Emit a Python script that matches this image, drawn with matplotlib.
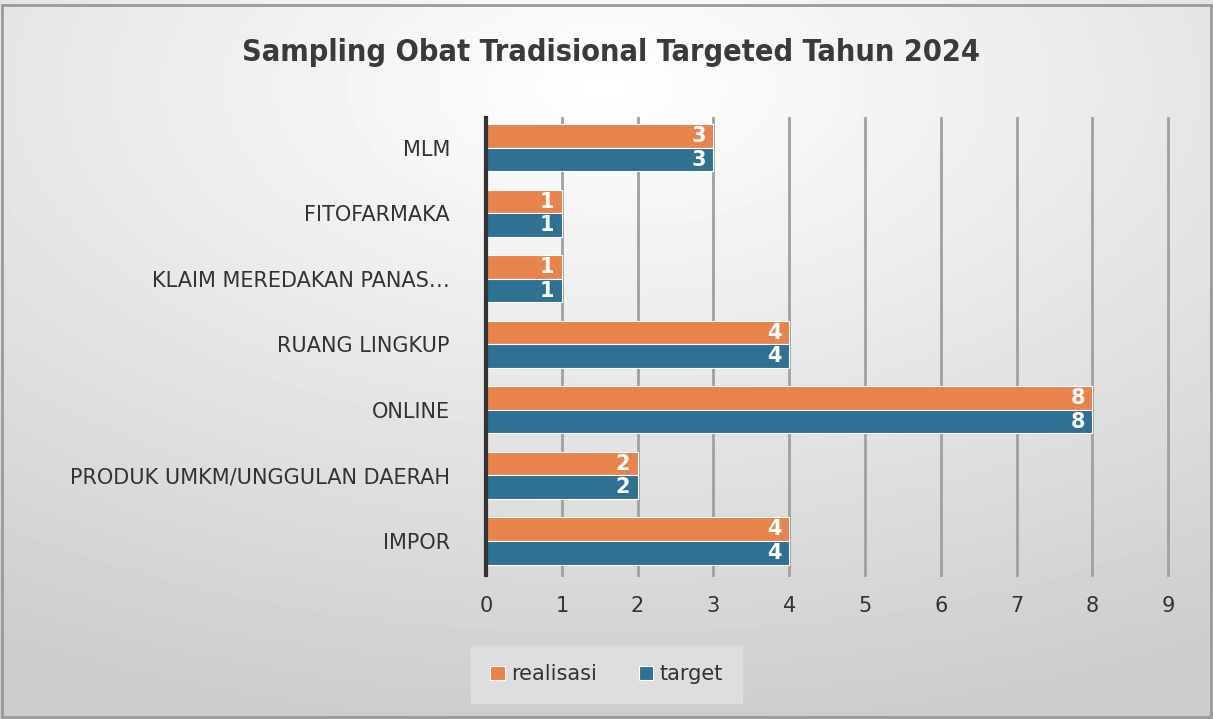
import matplotlib
matplotlib.use("Agg")
import matplotlib.pyplot as plt
import numpy as np
from matplotlib.patches import Rectangle

# Data
kategori = ["IMPOR", "PRODUK UMKM/UNGGULAN DAERAH", "ONLINE", "RUANG LINGKUP",
            "KLAIM MEREDAKAN PANAS…", "FITOFARMAKA", "MLM"]
realisasi = [4, 2, 8, 4, 1, 1, 3]
target = [4, 2, 8, 4, 1, 1, 3]
xticks = [0, 1, 2, 3, 4, 5, 6, 7, 8, 9]

warna_realisasi = "#E8834C"
warna_target = "#2E7192"

fig = plt.figure(figsize=(12.13, 7.19), dpi=100)

# latar belakang gradien
bg = fig.add_axes([0, 0, 1, 1], zorder=-10)
yy, xx = np.mgrid[0:1:200j, 0:1:300j]
r = np.sqrt(((xx - 0.5) * 1.0) ** 2 + ((yy - 0.12) * 1.1) ** 2)
g = np.clip(1.0 - 0.2 * r, 0.8, 1.0)
bg.imshow(g, cmap="gray", vmin=0, vmax=1, extent=[0, 1, 0, 1], aspect="auto",
          origin="upper")
bg.add_patch(Rectangle((0.002, 0.003), 0.996, 0.99, fill=False, edgecolor="#9a9a9a",
                       lw=2, transform=bg.transAxes))
bg.set_xlim(0, 1)
bg.set_ylim(0, 1)
bg.axis("off")

ax = fig.add_axes([0.4007, 0.2003, 0.5623, 0.636])
ax.patch.set_alpha(0)

y = np.arange(len(kategori))
h = 0.36
b1 = ax.barh(y + h / 2, realisasi, height=h, color=warna_realisasi,
             edgecolor="white", linewidth=0.8, label="realisasi", zorder=3)
b2 = ax.barh(y - h / 2, target, height=h, color=warna_target,
             edgecolor="white", linewidth=0.8, label="target", zorder=3)

for bars in (b1, b2):
    for rect in bars:
        w = rect.get_width()
        ax.text(w - 0.1, rect.get_y() + rect.get_height() / 2, str(int(w)),
                ha="right", va="center", color="white", fontsize=15,
                fontweight="bold", zorder=4)

ax.set_xlim(0, 9)
ax.set_ylim(-0.52, 6.46)
ax.set_xticks(xticks)
ax.set_yticks(y)
ax.set_yticklabels(kategori, fontsize=15, color="#333333")
ax.tick_params(axis="x", labelsize=15, colors="#333333", length=0, pad=15)
ax.tick_params(axis="y", length=0, pad=26)
ax.grid(axis="x", color="#a0a0a0", linewidth=2, zorder=0)
ax.set_axisbelow(True)
for garis in ax.get_xgridlines():
    garis.set_clip_on(False)
for s in ["top", "right", "bottom"]:
    ax.spines[s].set_visible(False)
ax.spines["left"].set_color("#333333")
ax.spines["left"].set_linewidth(3)
ax.spines["left"].set_zorder(5)

fig.text(0.504, 0.927, "Sampling Obat Tradisional Targeted Tahun 2024",
         ha="center", va="center", fontsize=22, fontweight="bold",
         fontstretch="condensed", color="#3a3a3a", family="DejaVu Sans")

leg = fig.legend(handles=[b1, b2], labels=["realisasi", "target"],
                 loc="center", bbox_to_anchor=(0.5, 0.062), ncol=2,
                 fontsize=15, frameon=True, handlelength=0.7, handleheight=0.7,
                 handletextpad=0.3, columnspacing=2.0, borderpad=0.6)
leg.get_frame().set_facecolor("#e2e2e2")
leg.get_frame().set_edgecolor("#e2e2e2")
leg.get_frame().set_boxstyle("square")
for t in leg.get_texts():
    t.set_color("#333333")

fig.savefig("out.png", dpi=100)
